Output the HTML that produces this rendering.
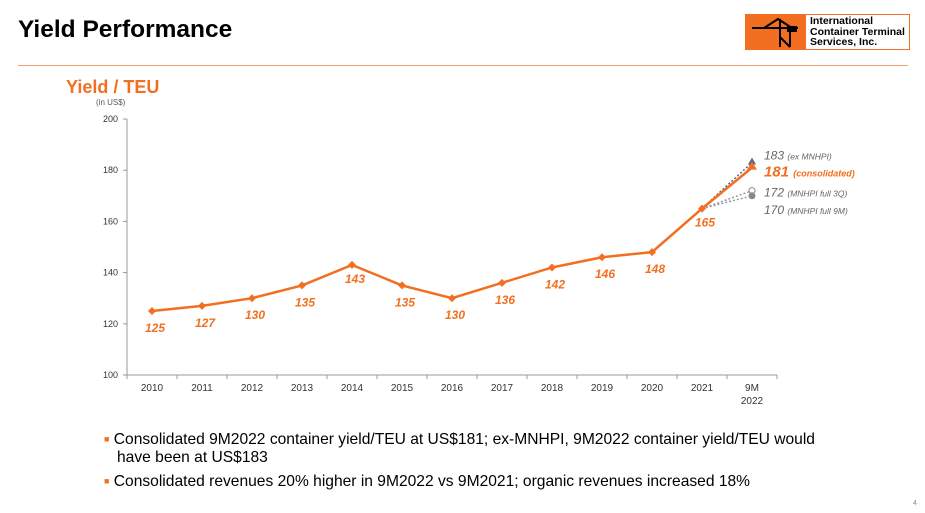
<!DOCTYPE html><html><head><meta charset="utf-8"><style>
body{margin:0;width:925px;height:513px;background:#fff;font-family:"Liberation Sans",sans-serif;position:relative;overflow:hidden}
.a{position:absolute}
</style></head><body>
<div class="a" style="left:18px;top:16px;font-size:24.5px;font-weight:bold;color:#000">Yield Performance</div>
<div class="a" style="left:745px;top:14px;width:163px;height:34px;border:1px solid #f26f21;background:#fff">
<div style="position:absolute;left:0;top:0;width:60px;height:34px;background:#f26f21"><svg width="60" height="34"><g stroke="#000" stroke-width="2" fill="none"><path d="M6 13H52M18 13L32 4L46 13M34 4V32M34 22L44 32M44 14V32"/><rect x="42" y="12" width="8" height="4" fill="#000"/></g></svg></div>
<div style="position:absolute;left:64px;top:1px;font-size:10.5px;font-weight:bold;line-height:10.5px;color:#000">International<br>Container Terminal<br>Services, Inc.</div></div>
<div class="a" style="left:18px;top:65px;width:890px;height:1px;background:#f5a070"></div>
<div class="a" style="left:66px;top:77px;font-size:18px;font-weight:bold;color:#f26f21">Yield / TEU</div>
<div class="a" style="left:96px;top:98px;font-size:8px;color:#555">(in US$)</div>
<svg class="a" style="left:0;top:0" width="925" height="513" id="ch"></svg>
<div class="a" style="left:104px;top:430px;font-size:15.6px;color:#000;line-height:18px;width:760px;white-space:nowrap"><span style="color:#f26f21;font-size:9px;vertical-align:2px">■</span> Consolidated 9M2022 container yield/TEU at US$181; ex-MNHPI, 9M2022 container yield/TEU would<br>&nbsp;&nbsp;&nbsp;have been at US$183</div>
<div class="a" style="left:104px;top:473px;font-size:15.6px;color:#000;white-space:nowrap"><span style="color:#f26f21;font-size:9px;vertical-align:2px">■</span> Consolidated revenues 20% higher in 9M2022 vs 9M2021; organic revenues increased 18%</div>
<div class="a" style="left:913px;top:500px;font-size:7px;color:#888">4</div>
<script>
const categories=["2010","2011","2012","2013","2014","2015","2016","2017","2018","2019","2020","2021","9M"];
const yieldValues=[125,127,130,135,143,135,130,136,142,146,148,165,181];
const yTicks=[100,120,140,160,180,200];
const altValues=[183,172,170];
const altLabels=["183","172","170"];
const altNotes=["(ex MNHPI)","(MNHPI full 3Q)","(MNHPI full 9M)"];
const svg=document.getElementById('ch');const NS="http://www.w3.org/2000/svg";
const X=i=>152+i*50, Y=v=>375-(v-100)*2.56;
function mk(t,a,txt){const e=document.createElementNS(NS,t);for(const k in a)e.setAttribute(k,a[k]);if(txt!=null)e.textContent=txt;svg.appendChild(e);return e;}
let e=mk('line',{x1:127,y1:119,x2:127,y2:375,stroke:'#999'});
e=mk('line',{x1:127,y1:375,x2:777,y2:375,stroke:'#999'});
yTicks.forEach(v=>{mk('line',{x1:123,y1:Y(v),x2:127,y2:Y(v),stroke:'#999'});e=mk('text',{x:118,y:Y(v)+3,'text-anchor':'end','font-size':9,fill:'#333'},v);});
categories.forEach((c,i)=>{mk('line',{x1:127+i*50,y1:375,x2:127+i*50,y2:379,stroke:'#999'});e=mk('text',{x:X(i),y:391,'text-anchor':'middle','font-size':10,fill:'#333'},c);});
mk('line',{x1:777,y1:375,x2:777,y2:379,stroke:'#999'});
e=mk('text',{x:X(12),y:404,'text-anchor':'middle','font-size':10,fill:'#333'},'2022');
const n=yieldValues.length;
const offs=[-3,6,18];
altValues.forEach((v,k)=>{e=mk('line',{x1:X(n-2),y1:Y(yieldValues[n-2]),x2:X(n-1),y2:Y(v),stroke:k==0?'#5a6a80':'#999','stroke-width':1.5,'stroke-dasharray':'2,2'});
 if(k==0){e=mk('path',{d:`M${X(n-1)} ${Y(v)-5}l4 7h-8z`,fill:'#5a6a80'});}else{e=mk('circle',{cx:X(n-1),cy:Y(v),r:3,fill:k==1?'#fff':'#888',stroke:'#888'});}
 
 e=mk('text',{x:764,y:Y(v)+offs[k],'font-size':12,'font-style':'italic',fill:'#666'},altLabels[k]+' ');
 const t=document.createElementNS(NS,'tspan');t.setAttribute('font-size',8.5);t.textContent=altNotes[k];e.appendChild(t);});
e=mk('polyline',{points:yieldValues.map((v,i)=>X(i)+','+Y(v)).join(' '),fill:'none',stroke:'#f26f21','stroke-width':2.5});
yieldValues.forEach((v,i)=>{if(i<n-1){e=mk('path',{d:`M${X(i)} ${Y(v)-4}l4 4l-4 4l-4-4z`,fill:'#f26f21'});}else{e=mk('path',{d:`M${X(i)} ${Y(v)-6}l5 8h-10z`,fill:'#f26f21'});}
 
 if(i<n-1){const lab=mk('text',{x:X(i)+3,y:Y(v)+(i==4||i==11?18:21),'text-anchor':'middle','font-size':12,'font-weight':'bold','font-style':'italic',fill:'#f26f21'},v);}});
e=mk('text',{x:764,y:Y(yieldValues[n-1])+9,'font-size':15,'font-weight':'bold','font-style':'italic',fill:'#f26f21'},yieldValues[n-1]+' ');
const ts=document.createElementNS(NS,'tspan');ts.setAttribute('font-size',9);ts.textContent='(consolidated)';e.appendChild(ts);
</script></body></html>
